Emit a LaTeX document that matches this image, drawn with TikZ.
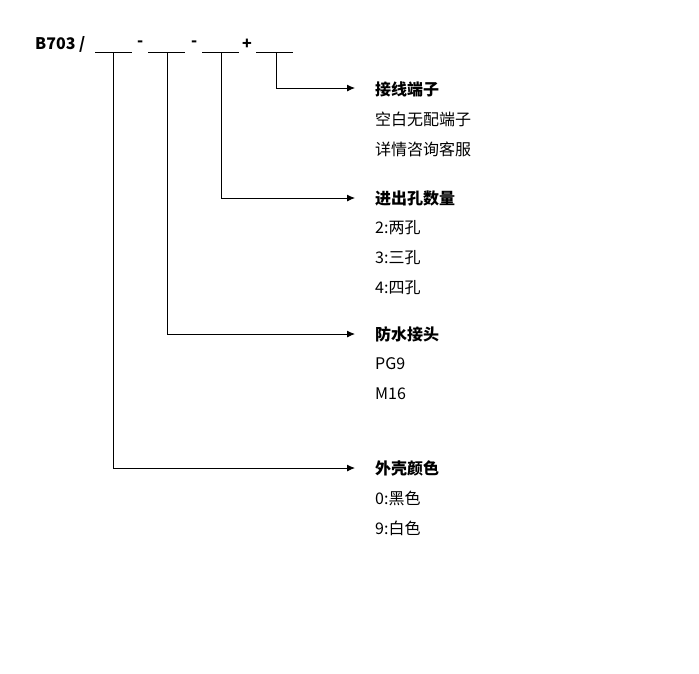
\documentclass[tikz,border=0pt]{standalone}
\usepackage{fontspec}
\usetikzlibrary{arrows.meta}
\setmainfont{Noto Sans CJK SC}
\begin{document}
\begin{tikzpicture}[x=1pt,y=-1pt,
  ln/.style={line width=0.9pt},
  arr/.style={ln,-{Latex[length=8pt,width=7pt]}},
  txt/.style={anchor=west,inner sep=0pt,font=\fontsize{16}{18}\selectfont},
  hd/.style={txt,font=\fontsize{16}{18}\selectfont\bfseries}]
\useasboundingbox (0,0) rectangle (699,673);
\node[hd] (b) at (35,44) {B703 /};
\node[hd] (m1) at (137,44) {-};
\node[hd] (m2) at (191,44) {-};
\node[hd] (p) at (242,44) {+};
\foreach \a/\n in {95/1,148/2,202/3,256/4}{
  \draw[ln] (\a,52) -- ++(37,0);
}
\coordinate (t1) at (113,52);
\coordinate (t2) at (167,52);
\coordinate (t3) at (221,52);
\coordinate (t4) at (276,52);
\node[hd] (h4) at (375,89) {接线端子};
\node[txt] at (375,119) {空白无配端子};
\node[txt] at (375,149) {详情咨询客服};
\node[hd] (h3) at (375,198) {进出孔数量};
\node[txt] at (375,228) {2:两孔};
\node[txt] at (375,258) {3:三孔};
\node[txt] at (375,288) {4:四孔};
\node[hd] (h2) at (375,334) {防水接头};
\node[txt] at (375,364) {PG9};
\node[txt] at (375,394) {M16};
\node[hd] (h1) at (375,468) {外壳颜色};
\node[txt] at (375,498) {0:黑色};
\node[txt] at (375,528) {9:白色};
\draw[arr] (t4) |- (355,88);
\draw[arr] (t3) |- (355,198);
\draw[arr] (t2) |- (355,334);
\draw[arr] (t1) |- (355,468);
\end{tikzpicture}
\end{document}
